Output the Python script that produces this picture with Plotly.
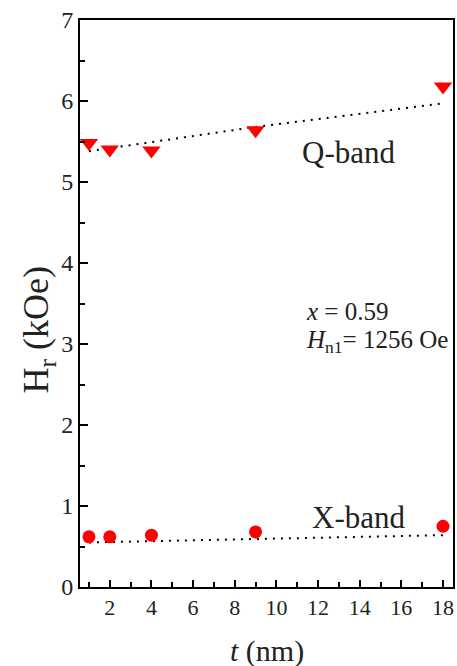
import plotly.graph_objects as go

# Data
t_vals = [1, 2, 4, 9, 18]
q_band = [5.48, 5.40, 5.39, 5.64, 6.18]
x_band = [0.62, 0.62, 0.64, 0.68, 0.75]

fit_t = [1, 9, 18]
q_fit = [5.38, 5.68, 5.97]
x_fit = [0.55, 0.595, 0.64]

x_ticks = [2, 4, 6, 8, 10, 12, 14, 16, 18]
y_ticks = [0, 1, 2, 3, 4, 5, 6, 7]

FONT = "Liberation Serif, Times New Roman, Liberation Sans, Arial, sans-serif"
TXT = "#222222"

fig = go.Figure()
fig.add_trace(go.Scatter(x=fit_t, y=q_fit, mode="lines",
                         line=dict(color="black", width=2, dash="2px,6px"),
                         showlegend=False, hoverinfo="skip"))
fig.add_trace(go.Scatter(x=fit_t, y=x_fit, mode="lines",
                         line=dict(color="black", width=2, dash="2px,6px"),
                         showlegend=False, hoverinfo="skip"))
fig.add_trace(go.Scatter(x=t_vals, y=q_band, mode="markers",
                         marker=dict(symbol="triangle-down", size=16, color="#ff0000", line=dict(width=0)),
                         showlegend=False))
fig.add_trace(go.Scatter(x=t_vals, y=x_band, mode="markers",
                         marker=dict(symbol="circle", size=13, color="#ff0000", line=dict(width=0)),
                         showlegend=False))

fig.update_layout(
    width=457, height=666,
    margin=dict(l=80, r=2, t=20, b=79),
    paper_bgcolor="white", plot_bgcolor="white",
    font=dict(family=FONT, size=22, color=TXT),
    xaxis=dict(range=[0.57, 18.48], tickmode="array", tickvals=x_ticks,
               ticks="inside", ticklen=7, tickwidth=1.5, tickcolor="black",
               minor=dict(dtick=1, tick0=0, ticks="inside", ticklen=5, tickwidth=1.5, tickcolor="black"),
               showline=True, linecolor="black", linewidth=2, mirror=True,
               showgrid=False, zeroline=False, tickfont=dict(family=FONT, size=22, color=TXT)),
    yaxis=dict(range=[0, 7], tickmode="array", tickvals=y_ticks,
               ticks="inside", ticklen=8, tickwidth=1.5, tickcolor="black",
               minor=dict(dtick=0.5, tick0=0, ticks="inside", ticklen=5, tickwidth=1.5, tickcolor="black"),
               showline=True, linecolor="black", linewidth=2, mirror=True,
               showgrid=False, zeroline=False, tickfont=dict(family=FONT, size=24, color=TXT)),
)

fig.add_annotation(text="Q-band", x=13.46, y=5.37, xref="x", yref="y", showarrow=False,
                   font=dict(family=FONT, size=31, color=TXT))
fig.add_annotation(text="X-band", x=13.94, y=0.86, xref="x", yref="y", showarrow=False,
                   font=dict(family=FONT, size=31, color=TXT))
fig.add_annotation(text="<i>x</i> = 0.59", x=11.31, y=3.40, xref="x", yref="y", showarrow=False,
                   xanchor="left", font=dict(family=FONT, size=25, color=TXT))
fig.add_annotation(text="<i>H</i><sub>n1</sub>= 1256 Oe", x=11.31, y=3.03, xref="x", yref="y", showarrow=False,
                   xanchor="left", font=dict(family=FONT, size=25, color=TXT))
fig.add_annotation(text="H<sub>r</sub> (kOe)", x=-0.112, y=3.17, xref="paper", yref="y", showarrow=False,
                   xanchor="center", yanchor="middle",
                   textangle=-90, font=dict(family=FONT, size=36, color=TXT))
fig.add_annotation(text="<i>t</i> (nm)", x=0.5, y=-0.113, xref="paper", yref="paper", showarrow=False,
                   yanchor="middle", font=dict(family=FONT, size=30, color=TXT))

fig.write_html("out.html")
